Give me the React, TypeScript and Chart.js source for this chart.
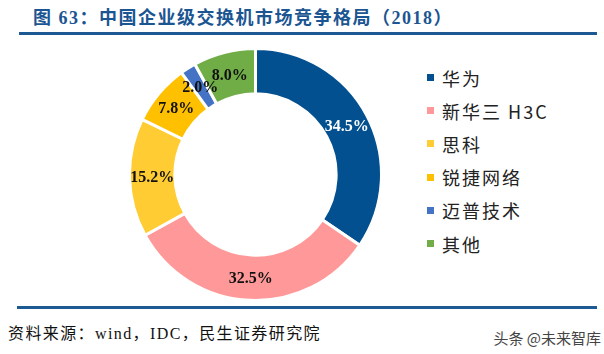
import React, { useEffect, useRef } from "react";
import { Chart, registerables } from "chart.js";

Chart.register(...registerables);

const categories = ["华为", "新华三 H3C", "思科", "锐捷网络", "迈普技术", "其他"];
const shares = [34.5, 32.5, 15.2, 7.8, 2.0, 8.0];
const sliceColors = ["#02508F", "#FF9999", "#FFCC33", "#FFC000", "#4472C4", "#70AD47"];
const labelColors = ["#FFFFFF", "#111111", "#111111", "#111111", "#111111", "#111111"];
const titleText = "图 63：中国企业级交换机市场竞争格局（2018）";
const sourceText = "资料来源：wind，IDC，民生证券研究院";
const watermarkText = "头条 @未来智库";

const sliceLabelPlugin = {
  id: "sliceLabels",
  afterDatasetsDraw(chart: any) {
    const ctx = chart.ctx;
    const meta = chart.getDatasetMeta(0);
    ctx.save();
    ctx.font = "bold 16px 'Liberation Serif', 'Times New Roman', serif";
    ctx.textAlign = "center";
    ctx.textBaseline = "middle";
    meta.data.forEach((arc: any, i: number) => {
      const p = arc.getCenterPoint();
      ctx.fillStyle = labelColors[i];
      ctx.fillText(shares[i].toFixed(1) + "%", p.x, p.y + 1);
    });
    ctx.restore();
  },
};

export default function App() {
  const canvasRef = useRef<HTMLCanvasElement | null>(null);

  useEffect(() => {
    if (!canvasRef.current) return;
    const chart = new Chart(canvasRef.current, {
      type: "doughnut",
      data: {
        labels: categories,
        datasets: [
          {
            data: shares,
            backgroundColor: sliceColors,
            borderColor: "#FFFFFF",
            borderWidth: 3,
          },
        ],
      },
      options: {
        responsive: false,
        animation: false,
        devicePixelRatio: 1,
        cutout: "64%",
        layout: { padding: 0 },
        plugins: {
          legend: { display: false },
          tooltip: { enabled: false },
        },
      },
      plugins: [sliceLabelPlugin],
    });
    return () => chart.destroy();
  }, []);

  const lineColor = "#1D5A94";
  const cjk = "'Noto Sans CJK SC', sans-serif";
  const serifCjk = "'Liberation Serif', 'Times New Roman', 'Noto Sans CJK SC', serif";

  return (
    <div
      style={{
        position: "absolute",
        left: 0,
        top: 0,
        width: 604,
        height: 354,
        background: "#FFFFFF",
        overflow: "hidden",
      }}
    >
      <div
        style={{
          position: "absolute",
          left: 33,
          top: 6,
          lineHeight: "24px",
          fontSize: 18,
          fontWeight: "bold",
          letterSpacing: "1.5px",
          color: "#1B5592",
          fontFamily: serifCjk,
          whiteSpace: "nowrap",
        }}
      >
        {titleText}
      </div>
      <div
        style={{
          position: "absolute",
          left: 19,
          top: 32,
          width: 578,
          height: 3,
          background: lineColor,
        }}
      />
      <canvas
        ref={canvasRef}
        width={255}
        height={255}
        style={{ position: "absolute", left: 128, top: 47, width: 255, height: 255 }}
      />
      {categories.map((c, i) => {
        const cy = 77.5 + i * 33.2;
        return (
          <React.Fragment key={c}>
            <div
              style={{
                position: "absolute",
                left: 427,
                top: cy - 3.5,
                width: 7,
                height: 7,
                background: sliceColors[i],
              }}
            />
            <div
              style={{
                position: "absolute",
                left: 442,
                top: cy - 12,
                lineHeight: "24px",
                fontSize: 18,
                letterSpacing: "2px",
                color: "#222222",
                fontFamily: cjk,
                whiteSpace: "nowrap",
              }}
            >
              {c}
            </div>
          </React.Fragment>
        );
      })}
      <div
        style={{
          position: "absolute",
          left: 17,
          top: 306,
          width: 580,
          height: 3,
          background: lineColor,
        }}
      />
      <div
        style={{
          position: "absolute",
          left: 8,
          top: 322,
          lineHeight: "24px",
          fontSize: 16,
          letterSpacing: "1.4px",
          color: "#111111",
          fontFamily: serifCjk,
          whiteSpace: "nowrap",
        }}
      >
        {sourceText}
      </div>
      <div
        style={{
          position: "absolute",
          right: 3,
          top: 326,
          lineHeight: "24px",
          fontSize: 15,
          color: "#444444",
          fontFamily: cjk,
          whiteSpace: "nowrap",
        }}
      >
        {watermarkText}
      </div>
    </div>
  );
}
